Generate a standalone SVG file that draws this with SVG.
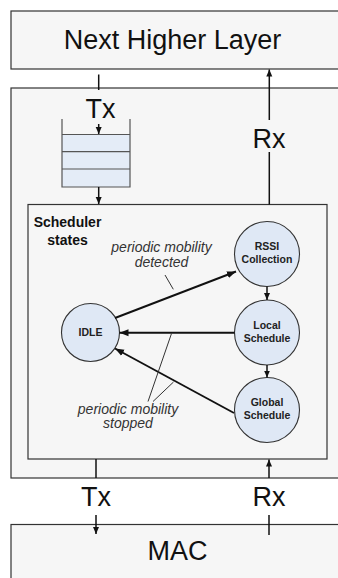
<svg xmlns="http://www.w3.org/2000/svg" width="338" height="578" viewBox="0 0 338 578">
<style>
.box{fill:#f6f6f6;stroke:#333;stroke-width:1.2}
.big{font-family:"Liberation Sans",Arial,sans-serif;font-size:27px;fill:#111;text-anchor:middle}
.st{fill:#dfe8f5;stroke:#333;stroke-width:1.1}
.lbl{font-family:"Liberation Sans",Arial,sans-serif;font-size:10.5px;font-weight:bold;fill:#222;text-anchor:middle}
.it{font-family:"Liberation Sans",Arial,sans-serif;font-size:14px;font-style:italic;fill:#333;text-anchor:middle}
.ln{stroke:#111;stroke-width:1.5;fill:none}
.tr{stroke:#111;stroke-width:1.9;fill:none}
.pt{stroke:#333;stroke-width:1;fill:none}
</style>
<defs>
<marker id="a" markerUnits="userSpaceOnUse" markerWidth="8" markerHeight="8" refX="7" refY="4" orient="auto"><path d="M0,1 L7,4 L0,7 Z" fill="#111"/></marker>
<marker id="b" markerUnits="userSpaceOnUse" markerWidth="10" markerHeight="10" refX="9" refY="5" orient="auto"><path d="M0,1.5 L9,5 L0,8.5 Z" fill="#111"/></marker>
</defs>
<g id="next-higher-layer"><rect class="box" x="11" y="11" width="340" height="58"/><text class="big" x="172.5" y="49">Next Higher Layer</text></g>
<g id="middle-layer"><rect class="box" x="11" y="88" width="340" height="390"/></g>
<g id="mac"><rect class="box" x="11" y="524.5" width="340" height="70"/><text class="big" x="177.5" y="560">MAC</text></g>
<g id="scheduler"><rect class="box" x="28" y="204.5" width="299" height="254.5"/>
<text font-family="Liberation Sans,Arial,sans-serif" font-size="14" font-weight="bold" fill="#111" text-anchor="middle"><tspan x="67.5" y="227">Scheduler</tspan><tspan x="67.5" y="245">states</tspan></text></g>
<g id="queue">
<rect x="62" y="134.5" width="68" height="52.5" fill="#e4ecf7"/>
<path d="M62,119 V187 H130 V119 M62,134.5 H130 M62,151.7 H130 M62,169 H130" stroke="#555" stroke-width="1.2" fill="none"/>
</g>
<g id="idle"><circle class="st" cx="90.5" cy="332.5" r="29"/><text class="lbl" x="90.5" y="336">IDLE</text></g>
<g id="rssi"><circle class="st" cx="267" cy="254" r="32.5"/><text class="lbl"><tspan x="267" y="250">RSSI</tspan><tspan x="267" y="263">Collection</tspan></text></g>
<g id="local"><circle class="st" cx="267" cy="332.5" r="32.5"/><text class="lbl"><tspan x="267" y="328.5">Local</tspan><tspan x="267" y="341.5">Schedule</tspan></text></g>
<g id="global"><circle class="st" cx="267" cy="410" r="32.5"/><text class="lbl"><tspan x="267" y="405.5">Global</tspan><tspan x="267" y="418.5">Schedule</tspan></text></g>
<g id="labels">
<text class="big" x="100.5" y="118">Tx</text>
<text class="big" x="269" y="148">Rx</text>
<text class="big" x="96" y="505.5">Tx</text>
<text class="big" x="269" y="505.5">Rx</text>
<text class="it"><tspan x="161.5" y="252">periodic mobility</tspan><tspan x="161.5" y="267">detected</tspan></text>
<text class="it"><tspan x="128" y="413.5">periodic mobility</tspan><tspan x="128" y="428">stopped</tspan></text>
</g>
<g id="connectors">
<line class="ln" x1="98.7" y1="74.5" x2="98.7" y2="90"/>
<line class="ln" x1="98.7" y1="124" x2="98.7" y2="134" marker-end="url(#a)"/>
<line class="ln" x1="98.7" y1="187" x2="98.7" y2="204" marker-end="url(#a)"/>
<line class="ln" x1="269.3" y1="120" x2="269.3" y2="69.5" marker-end="url(#a)"/>
<line class="ln" x1="269.3" y1="152" x2="269.3" y2="204.5"/>
<line class="ln" x1="96" y1="459" x2="96" y2="478"/>
<line class="ln" x1="96" y1="515" x2="96" y2="534" marker-end="url(#a)"/>
<line class="ln" x1="269" y1="478" x2="269" y2="459.5" marker-end="url(#a)"/>
<line class="ln" x1="269" y1="515" x2="269" y2="535"/>
<line class="ln" x1="267" y1="286.5" x2="267" y2="300" marker-end="url(#a)"/>
<line class="ln" x1="267" y1="365" x2="267" y2="377.5" marker-end="url(#a)"/>
<line class="tr" x1="115" y1="318" x2="236" y2="271.5" marker-end="url(#b)"/>
<line class="tr" x1="234.5" y1="332.7" x2="119.5" y2="332.7" marker-end="url(#b)"/>
<line class="tr" x1="234" y1="413" x2="115" y2="348.5" marker-end="url(#b)"/>
<line class="pt" x1="165" y1="275" x2="173.3" y2="289.3"/>
<line class="pt" x1="171.5" y1="333.5" x2="148" y2="401.5"/>
<line class="pt" x1="173.5" y1="382" x2="153" y2="401.5"/>
</g>
</svg>
